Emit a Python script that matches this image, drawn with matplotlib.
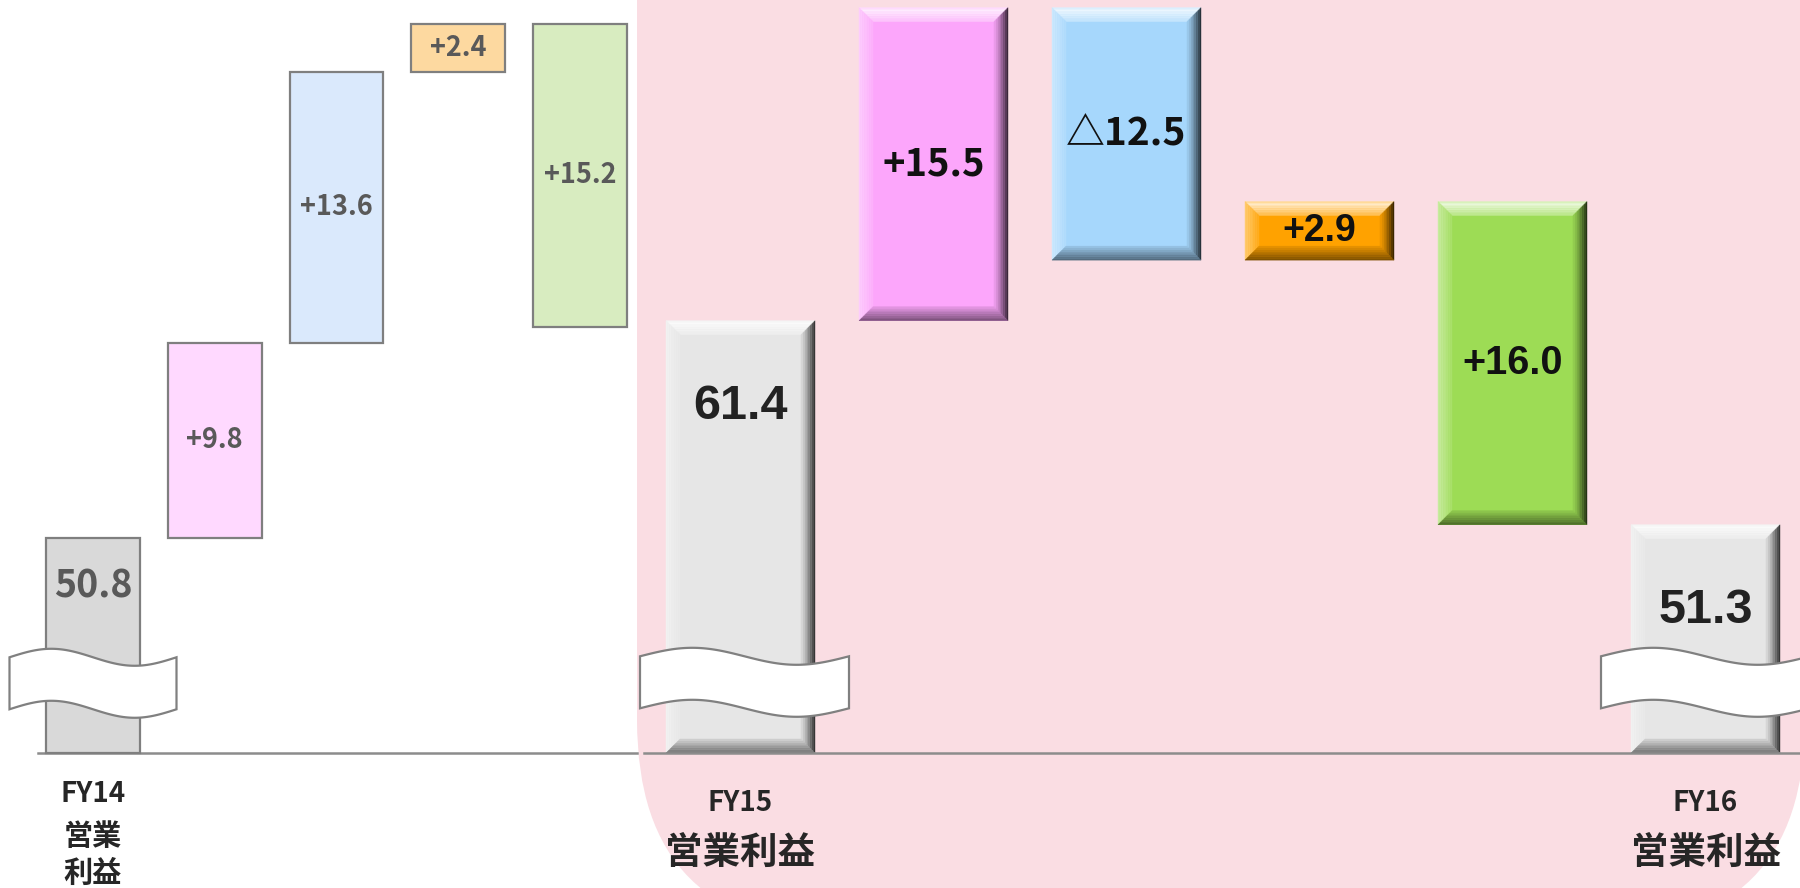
import numpy as np
import matplotlib
matplotlib.use("Agg")
import matplotlib.pyplot as plt
import matplotlib.colors as mcolors
from matplotlib.patches import Polygon, FancyBboxPatch

# ---------------- data ----------------
axis_floor = 40.0

left_categories = ["FY14\n営業\n利益", "", "", "", ""]
left_start = 50.8
left_start_label = "50.8"
left_deltas = [9.8, 13.6, 2.4, -15.2]
left_delta_labels = ["+9.8", "+13.6", "+2.4", "+15.2"]

right_categories = ["FY15\n営業利益", "", "", "", "", "FY16\n営業利益"]
right_start = 61.4
right_start_label = "61.4"
right_deltas = [15.5, -12.5, 2.9, -16.0]
right_delta_labels = ["+15.5", "△12.5", "+2.9", "+16.0"]
right_end = 51.3
right_end_label = "51.3"

# ---------------- styles ----------------
left_colors = ["#d9d9d9", "#ffd9ff", "#dae9fc", "#fdd9a0", "#d8ecc0"]
right_colors = ["#e6e6e6", "#fca6fb", "#a6d7fc", "#ffa200", "#9ddc55", "#e6e6e6"]
pink_bg = "#fadde3"
grey_line = "#8c8c8c"

CJK = "Noto Sans CJK JP"
ARIAL = "Liberation Sans"

W, H = 1800, 888
fig = plt.figure(figsize=(W / 100, H / 100), dpi=100)

# background (pixel coordinates)
bg = fig.add_axes([0, 0, 1, 1], zorder=0)
bg.set_xlim(0, W)
bg.set_ylim(H, 0)
bg.axis("off")
bg.add_patch(FancyBboxPatch((637, -600), 1805 - 637, 931 + 600,
                            boxstyle="round,pad=0,rounding_size=211",
                            facecolor=pink_bg, edgecolor="none"))

base_px = H - 753  # baseline distance from bottom in px


def make_axes(x0_px, step_px, px_per_unit, z):
    ax = fig.add_axes([0, 0, 1, 1], zorder=z)
    ax.set_xlim(-x0_px / step_px, (W - x0_px) / step_px)
    ax.set_ylim(axis_floor - base_px / px_per_unit,
                axis_floor + (H - base_px) / px_per_unit)
    ax.axis("off")
    ax.patch.set_alpha(0)
    return ax, step_px, px_per_unit


axL, sxL, syL = make_axes(93, 121.75, 19.92, 1)
axR, sxR, syR = make_axes(740.5, 193, 20.2, 2)
bar_w = 0.772


def waterfall(start, deltas, end=None):
    bottoms, heights = [axis_floor], [start - axis_floor]
    level = start
    for d in deltas:
        bottoms.append(min(level, level + d))
        heights.append(abs(d))
        level += d
    if end is not None:
        bottoms.append(axis_floor)
        heights.append(end - axis_floor)
    return np.array(bottoms), np.array(heights)


def draw_break(ax, xc, sx, sy, hw_px, yc=43.5, hh_px=26, amp_px=8.5, zorder=6):
    t = np.linspace(0, 1, 80)
    hw, hh, amp = hw_px / sx, hh_px / sy, amp_px / sy
    xs = xc - hw + 2 * hw * t
    top = yc + hh + amp * np.sin(2 * np.pi * t)
    bot = yc - hh + amp * np.sin(2 * np.pi * t)
    pts = np.vstack([np.column_stack([xs, top]), np.column_stack([xs[::-1], bot[::-1]])])
    ax.add_patch(Polygon(pts, closed=True, facecolor="white", edgecolor="#808080",
                         linewidth=1.6, zorder=zorder))


def bevel(ax, xc, y0, y1, width, color, sx, sy, b=14, n=8):
    x0, x1 = xc - width / 2, xc + width / 2
    bx, by = b / sx, b / sy
    base = np.array(mcolors.to_rgb(color))
    white, black = np.ones(3), np.zeros(3)

    def mix(c, a):
        return np.clip(base * (1 - a) + c * a, 0, 1)

    for i in range(n):
        fa, fb = i / n, (i + 1) / n
        s = (i + 0.5) / n
        ct = mix(white, 0.9 - 0.6 * s if s > 0.15 else 0.6)
        ax.add_patch(Polygon([(x0 + fa * bx, y1 - fa * by), (x1 - fa * bx, y1 - fa * by),
                              (x1 - fb * bx, y1 - fb * by), (x0 + fb * bx, y1 - fb * by)],
                             facecolor=ct, edgecolor=ct, lw=0.3, zorder=4))
        cl = mix(white, 0.45 - 0.35 * s)
        ax.add_patch(Polygon([(x0 + fa * bx, y1 - fa * by), (x0 + fb * bx, y1 - fb * by),
                              (x0 + fb * bx, y0 + fb * by), (x0 + fa * bx, y0 + fa * by)],
                             facecolor=cl, edgecolor=cl, lw=0.3, zorder=4))
        cr = mix(black, 0.78 * (1 - s) ** 1.3 + 0.05)
        ax.add_patch(Polygon([(x1 - fa * bx, y1 - fa * by), (x1 - fb * bx, y1 - fb * by),
                              (x1 - fb * bx, y0 + fb * by), (x1 - fa * bx, y0 + fa * by)],
                             facecolor=cr, edgecolor=cr, lw=0.3, zorder=4))
        cb = mix(black, 0.45 * (1 - s) + 0.08)
        ax.add_patch(Polygon([(x0 + fa * bx, y0 + fa * by), (x1 - fa * bx, y0 + fa * by),
                              (x1 - fb * bx, y0 + fb * by), (x0 + fb * bx, y0 + fb * by)],
                             facecolor=cb, edgecolor=cb, lw=0.3, zorder=4))


# ---------------- left (faded) chart ----------------
lb, lh = waterfall(left_start, left_deltas)
xl = np.arange(len(left_categories))
axL.bar(xl, lh, bottom=lb, width=bar_w, color=left_colors, edgecolor="#7f7f7f",
        linewidth=1.6, zorder=3)
axL.plot([-0.45, (637 - 93) / sxL], [axis_floor, axis_floor], color=grey_line, lw=1.8, zorder=2)
draw_break(axL, xl[0], sxL, syL, 83.5)
for x, b, h, lab in zip(xl[1:], lb[1:], lh[1:], left_delta_labels):
    axL.text(x, b + h / 2, lab, ha="center", va="center", fontsize=19.5,
             fontweight="bold", color="#595959", family=[CJK, "DejaVu Sans"], zorder=7)
axL.annotate(left_start_label, (xl[0], left_start), xytext=(0, -48), textcoords="offset pixels",
             ha="center", va="center", fontsize=27, fontweight="bold",
             color="#595959", family=[CJK, "DejaVu Sans"], zorder=7)
line_off_L = [41, 83, 120]
line_size_L = [20, 21, 21]
for x, cat in zip(xl, left_categories):
    if not cat:
        continue
    for k, line in enumerate(cat.split("\n")):
        axL.annotate(line, (x, axis_floor), xytext=(0, -line_off_L[k]), textcoords="offset pixels",
                     ha="center", va="center", fontsize=line_size_L[k], fontweight="bold",
                     color="#262626", family=[CJK, "DejaVu Sans"])

# ---------------- right (current) chart ----------------
rb, rh = waterfall(right_start, right_deltas, right_end)
xr = np.arange(len(right_categories))
axR.bar(xr, rh, bottom=rb, width=bar_w, color=right_colors, edgecolor="none", zorder=3)
for x, b, h, c in zip(xr, rb, rh, right_colors):
    bevel(axR, x, b, b + h, bar_w, c, sxR, syR)
axR.plot([(644 - 740.5) / sxR, 6], [axis_floor, axis_floor], color=grey_line, lw=1.8, zorder=5)
draw_break(axR, xr[0] + 4 / sxR, sxR, syR, 104.5)
draw_break(axR, xr[-1], sxR, syR, 104.5)

right_fonts = [[CJK], [CJK], [ARIAL, CJK], [ARIAL, CJK]]
right_sizes = [27.5, 28, 27, 28.5]
for x, b, h, lab, fam, fs in zip(xr[1:-1], rb[1:-1], rh[1:-1], right_delta_labels,
                                 right_fonts, right_sizes):
    axR.text(x, b + h / 2, lab, ha="center", va="center", fontsize=fs,
             fontweight="bold", color="#111111", family=fam, zorder=7)
for x, v, lab in [(xr[0], right_start, right_start_label), (xr[-1], right_end, right_end_label)]:
    axR.annotate(lab, (x, v), xytext=(0, -86), textcoords="offset pixels",
                 ha="center", va="center", fontsize=35, fontweight="bold",
                 color="#222222", family=[ARIAL, "DejaVu Sans"], zorder=7)
line_off_R = [50, 99]
line_size_R = [20, 27]
for x, cat in zip(xr, right_categories):
    if not cat:
        continue
    for k, line in enumerate(cat.split("\n")):
        axR.annotate(line, (x, axis_floor), xytext=(0, -line_off_R[k]), textcoords="offset pixels",
                     ha="center", va="center", fontsize=line_size_R[k], fontweight="bold",
                     color="#262626", family=[CJK, "DejaVu Sans"])

fig.savefig("out.png", dpi=100)
